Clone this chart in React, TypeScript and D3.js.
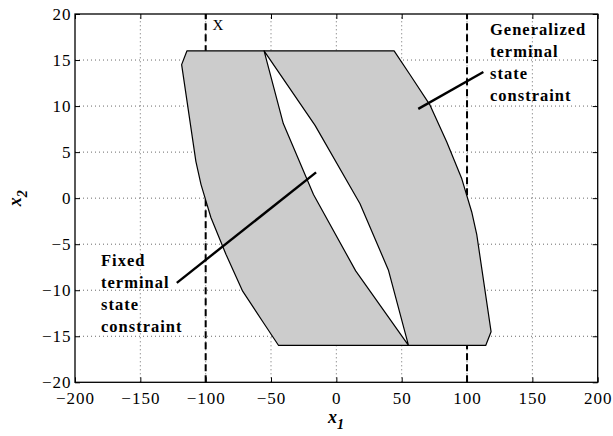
import React, { useEffect, useRef } from 'react';
import * as d3 from 'd3';

// outer (generalized terminal state) region, x1 / x2 vertices
const outerX1 = [-114.3, 44.2, 56.4, 71.7, 84.5, 96, 103.6, 107.5, 118.4, 114.3, -44.2, -56.4, -71.7, -84.5, -96, -103.6, -107.5, -118.4];
const outerX2 = [16, 16, 13.4, 10.1, 6.1, 2.1, -1.5, -4, -14.5, -16, -16, -13.4, -10.1, -6.1, -2.1, 1.5, 4, 14.5];

// inner (white) sliver
const innerX1 = [-55.3, -16.3, 18.1, 39.8, 55.2, 14.8, -17.5, -40.6];
const innerX2 = [16, 7.9, -0.6, -7.8, -16, -7.9, 0.4, 8.1];

const xTicks = [-200, -150, -100, -50, 0, 50, 100, 150, 200];
const yTicks = [-20, -15, -10, -5, 0, 5, 10, 15, 20];
const dashedX = [-100, 100];

// annotation pointer lines [x1a, x2a, x1b, x2b]
const genPointer = [62.7, 9.7, 112.5, 13.7];
const fixedPointer = [-122.1, -9.2, -15.5, 2.8];
const genLabel = ['Generalized', 'terminal', 'state', 'constraint'];
const fixedLabel = ['Fixed', 'terminal', 'state', 'constraint'];

const W = 613;
const H = 436;
const FONT = "'Liberation Serif', 'Times New Roman', Times, serif";

export default function App() {
  const svgRef = useRef<SVGSVGElement>(null);

  useEffect(() => {
    if (!svgRef.current) return;
    const svg = d3.select(svgRef.current);
    svg.selectAll('*').remove();

    const x = d3.scaleLinear().domain([-200, 200]).range([75, 597.7]);
    const y = d3.scaleLinear().domain([-20, 20]).range([382.3, 14]);
    const [x0, x1] = x.range();
    const [y0, y1] = y.range();

    svg.append('rect').attr('width', W).attr('height', H).attr('fill', '#fff');

    // grid
    const grid = svg.append('g').attr('stroke', '#444').attr('stroke-width', 0.8).attr('stroke-dasharray', '1,3');
    xTicks.slice(1, -1).forEach((t) => {
      grid.append('line').attr('x1', x(t)).attr('x2', x(t)).attr('y1', y0).attr('y2', y1);
    });
    yTicks.slice(1, -1).forEach((t) => {
      grid.append('line').attr('x1', x0).attr('x2', x1).attr('y1', y(t)).attr('y2', y(t));
    });

    // dashed verticals
    dashedX.forEach((v) => {
      svg.append('line')
        .attr('x1', x(v)).attr('x2', x(v)).attr('y1', y0).attr('y2', y1)
        .attr('stroke', '#000').attr('stroke-width', 2).attr('stroke-dasharray', '7,4');
    });

    const poly = (xs: number[], ys: number[]) =>
      'M' + xs.map((v, i) => `${x(v)},${y(ys[i])}`).join('L') + 'Z';

    svg.append('path').attr('d', poly(outerX1, outerX2))
      .attr('fill', '#cccccc').attr('stroke', '#000').attr('stroke-width', 1.2).attr('stroke-linejoin', 'round');
    svg.append('path').attr('d', poly(innerX1, innerX2))
      .attr('fill', '#fff').attr('stroke', '#000').attr('stroke-width', 1.2).attr('stroke-linejoin', 'round');

    // pointers
    [genPointer, fixedPointer].forEach((p) => {
      svg.append('line')
        .attr('x1', x(p[0])).attr('y1', y(p[1])).attr('x2', x(p[2])).attr('y2', y(p[3]))
        .attr('stroke', '#000').attr('stroke-width', 2.4);
    });

    // axes
    const tickStyle = (g: d3.Selection<SVGGElement, unknown, null, undefined>) => {
      g.attr('font-family', FONT).attr('font-size', 17);
      g.select('.domain').remove();
      g.selectAll('text').style('font-family', FONT).style('font-size', '17px')
        .style('letter-spacing', '1px').attr('fill', '#000');
      g.selectAll('line').attr('stroke', '#000');
    };
    const fmt = (d: d3.NumberValue) => (+d < 0 ? '\u2212' + Math.abs(+d) : String(d));

    svg.append('g').attr('transform', `translate(0,${y0})`)
      .call(d3.axisBottom(x).tickValues(xTicks).tickSizeInner(-5).tickSizeOuter(0).tickPadding(10).tickFormat(fmt))
      .call(tickStyle);
    svg.append('g').attr('transform', `translate(0,${y1})`)
      .call(d3.axisTop(x).tickValues(xTicks).tickSizeInner(-5).tickSizeOuter(0).tickFormat(() => ''))
      .call(tickStyle);
    svg.append('g').attr('transform', `translate(${x0},0)`)
      .call(d3.axisLeft(y).tickValues(yTicks).tickSizeInner(-5).tickSizeOuter(0).tickPadding(3.5).tickFormat(fmt))
      .call(tickStyle);
    svg.append('g').attr('transform', `translate(${x1},0)`)
      .call(d3.axisRight(y).tickValues(yTicks).tickSizeInner(-5).tickSizeOuter(0).tickFormat(() => ''))
      .call(tickStyle);

    svg.append('rect')
      .attr('x', x0).attr('y', y1).attr('width', x1 - x0).attr('height', y0 - y1)
      .attr('fill', 'none').attr('stroke', '#000').attr('stroke-width', 1.3);

    // labels
    const txt = (tx: number, ty: number, size: number) =>
      svg.append('text').attr('x', tx).attr('y', ty)
        .attr('font-family', FONT).style('font-family', FONT).style('font-size', `${size}px`);

    txt(218, 30, 15).attr('text-anchor', 'middle').text('X');

    const block = (lines: string[], tx: number, ty: number) => {
      lines.forEach((s, i) => {
        txt(tx, ty + i * 22.2, 16.5).style('font-weight', 'bold').style('letter-spacing', '1px').text(s);
      });
    };
    block(genLabel, 490, 34.5);
    block(fixedLabel, 101, 265.7);

    const xl = txt(336, 423, 18).attr('text-anchor', 'middle')
      .style('font-weight', 'bold').style('font-style', 'italic');
    xl.append('tspan').text('x');
    xl.append('tspan').attr('dy', 6).style('font-size', '14px').text('1');

    const yl = svg.append('text').attr('transform', `translate(21,${y(0)}) rotate(-90)`)
      .attr('text-anchor', 'middle')
      .attr('font-family', FONT).style('font-family', FONT)
      .style('font-size', '18px').style('font-weight', 'bold').style('font-style', 'italic');
    yl.append('tspan').text('x');
    yl.append('tspan').attr('dy', 6).style('font-size', '14px').text('2');

    return () => {
      svg.selectAll('*').remove();
    };
  }, []);

  return (
    <svg ref={svgRef} width={W} height={H} style={{ position: 'absolute', left: 0, top: 0, display: 'block' }} />
  );
}
